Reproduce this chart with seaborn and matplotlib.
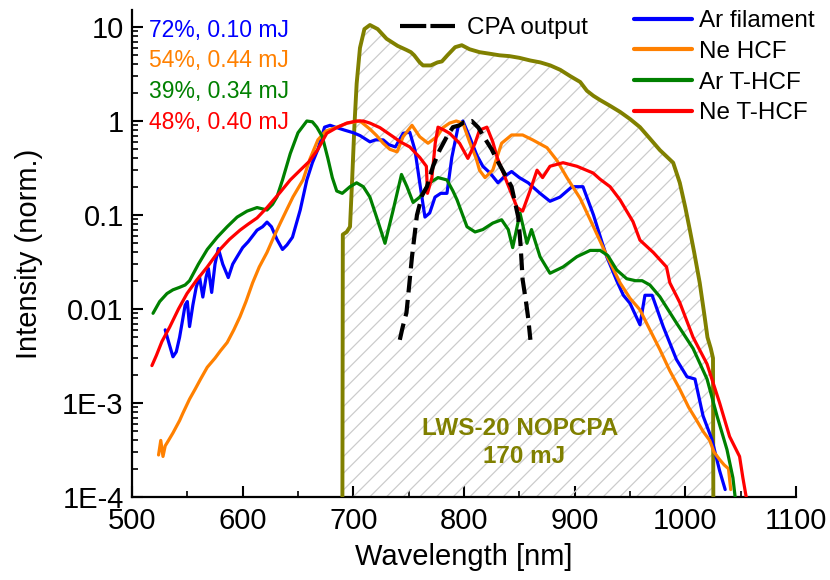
import numpy as np
import pandas as pd
import matplotlib
matplotlib.use("Agg")
import matplotlib.pyplot as plt
from matplotlib.lines import Line2D
from matplotlib.ticker import MultipleLocator, LogLocator, NullFormatter
import seaborn as sns

# ---------------- data ----------------
ar_fil_wl = [530, 533, 537, 540, 543, 546, 548, 550, 552, 555, 558, 561, 564, 567, 569, 572, 575, 578,
             582, 587, 591, 595, 600, 605, 610, 613, 618, 622, 626, 631, 636, 640, 645, 652, 658, 663,
             668, 674, 679, 685, 692, 700, 706, 715, 720, 727, 732, 738, 745, 751, 755.7, 760, 764.7,
             769, 773.8, 779, 784.6, 789, 794.6, 799, 805, 811.7, 817, 823.5, 830.7, 837, 843, 850, 858,
             868.7, 877.7, 886.7, 897.6, 907.5, 917, 925, 929, 934, 938, 944, 950, 959, 963.5, 970, 980,
             992, 1001.5, 1008.7, 1016, 1024, 1031, 1036]
ar_fil_int = [0.006, 0.0045, 0.0031, 0.0035, 0.005, 0.008, 0.011, 0.012, 0.0065, 0.011, 0.017, 0.022,
              0.0134, 0.022, 0.027, 0.015, 0.03, 0.044, 0.03, 0.0216, 0.03, 0.036, 0.045, 0.052, 0.062,
              0.069, 0.075, 0.084, 0.075, 0.055, 0.043, 0.048, 0.058, 0.113, 0.236, 0.36, 0.5, 0.86,
              0.9, 0.85, 0.8, 0.75, 0.7, 0.6, 0.63, 0.63, 0.56, 0.53, 0.74, 0.76, 0.49, 0.22, 0.095,
              0.105, 0.155, 0.17, 0.17, 0.41, 0.86, 1.0, 0.68, 0.43, 0.33, 0.28, 0.22, 0.26, 0.29, 0.25,
              0.22, 0.17, 0.14, 0.155, 0.2, 0.2, 0.1, 0.05, 0.036, 0.026, 0.02, 0.014, 0.0115, 0.0068,
              0.014, 0.014, 0.0065, 0.0029, 0.0019, 0.0018, 0.00073, 0.00041, 0.00019, 0.00012]

ne_hcf_wl = [524, 526, 528, 530, 533, 537, 543, 546, 552, 557, 562, 568, 575, 580, 586, 592, 597.6, 603,
             609, 615, 622, 628, 634, 640, 645.5, 654.5, 661, 668, 675, 685, 695, 706, 715, 721, 727,
             733, 739.5, 745, 753, 760, 767.5, 775.5, 781, 787, 793, 799, 805, 811, 814, 819, 826, 834,
             843, 853, 862, 875, 884, 893, 905, 917, 929, 941, 950, 959, 968, 977, 986, 995, 1003,
             1010, 1016, 1022, 1026, 1031, 1035, 1039, 1041]
ne_hcf_int = [0.00028, 0.0004, 0.00027, 0.00035, 0.0004, 0.00048, 0.00065, 0.00078, 0.0011, 0.0014,
              0.0018, 0.0024, 0.003, 0.0036, 0.0044, 0.006, 0.0083, 0.012, 0.019, 0.028, 0.04, 0.058,
              0.082, 0.115, 0.156, 0.236, 0.4, 0.63, 0.78, 0.86, 0.95, 1.0, 0.82, 0.7, 0.58, 0.5, 0.47,
              0.68, 0.9, 0.68, 0.58, 0.68, 0.85, 0.95, 1.0, 0.95, 0.6, 0.4, 0.3, 0.25, 0.3, 0.58, 0.71,
              0.71, 0.63, 0.52, 0.38, 0.25, 0.15, 0.075, 0.037, 0.019, 0.013, 0.0098, 0.006, 0.0037,
              0.0022, 0.0014, 0.0009, 0.00066, 0.0005, 0.0004, 0.0003, 0.00025, 0.00022, 0.0002, 0.00012]

ar_thcf_wl = [519, 525, 531.6, 537, 543, 548, 552, 560, 568, 577, 586, 595, 604, 613, 622, 627, 631, 636,
              643, 650, 658, 663, 667, 672, 677, 681, 685, 690, 697, 703, 709, 715, 721, 728.6, 736,
              743.5, 748.5, 754, 760, 769, 776.5, 784.6, 790, 793.7, 802.7, 810, 817, 826, 834, 840,
              844, 850.6, 856.9, 861, 868.7, 877.7, 889.5, 902, 914, 923, 930, 938, 947, 955, 961, 968,
              977, 992, 1007, 1019.6, 1028.6, 1037.6, 1043, 1045]
ar_thcf_int = [0.009, 0.012, 0.0146, 0.016, 0.017, 0.018, 0.02, 0.03, 0.043, 0.058, 0.075, 0.095, 0.11,
               0.12, 0.113, 0.13, 0.156, 0.236, 0.45, 0.75, 1.0, 0.98, 0.86, 0.68, 0.4, 0.25, 0.18,
               0.17, 0.2, 0.22, 0.2, 0.155, 0.095, 0.05, 0.113, 0.27, 0.2, 0.136, 0.155, 0.22, 0.25,
               0.236, 0.18, 0.145, 0.075, 0.066, 0.07, 0.082, 0.089, 0.07, 0.045, 0.105, 0.05, 0.07,
               0.036, 0.024, 0.028, 0.036, 0.042, 0.042, 0.037, 0.026, 0.021, 0.02, 0.02, 0.018, 0.0135,
               0.0071, 0.0038, 0.0018, 0.00073, 0.00032, 0.00016, 0.0001]

ne_thcf_wl = [518, 522, 527, 534, 542, 549.7, 558, 568, 579.5, 588, 597.6, 605, 613, 622, 628, 634, 643,
              652, 660, 668, 676, 685, 694, 703, 709, 715, 724, 736, 742.5, 751, 760, 766, 767, 771,
              774, 776.5, 782, 787, 796, 803.5, 810, 814, 820.7, 826, 830, 839, 848, 853, 859.6, 866,
              871, 877.7, 889.5, 902, 916.6, 923, 932, 941, 947, 952.7, 959, 971, 983, 986, 995, 1007,
              1019.6, 1031, 1040, 1049, 1052, 1055]
ne_thcf_int = [0.0025, 0.0032, 0.0045, 0.0064, 0.01, 0.0146, 0.02, 0.028, 0.043, 0.055, 0.069, 0.08,
               0.093, 0.12, 0.145, 0.175, 0.236, 0.3, 0.37, 0.5, 0.74, 0.85, 0.95, 1.0, 1.0, 0.95, 0.85,
               0.68, 0.6, 0.53, 0.41, 0.33, 0.17, 0.25, 0.58, 0.86, 0.8, 0.74, 0.58, 0.4, 0.58, 0.8,
               0.86, 0.6, 0.41, 0.22, 0.12, 0.11, 0.18, 0.3, 0.25, 0.33, 0.36, 0.33, 0.28, 0.24, 0.2,
               0.145, 0.11, 0.085, 0.054, 0.04, 0.028, 0.019, 0.0117, 0.005, 0.0026, 0.001, 0.00044,
               0.00027, 0.00016, 0.0001]

cpa_wl = [742, 744, 746, 748, 750.5, 753, 757.5, 762, 766.5, 772, 778, 785, 790, 796, 800, 807, 813, 820,
          825, 830, 837, 843, 849, 851, 853, 856, 858, 860]
cpa_int = [0.0047, 0.006, 0.0075, 0.0091, 0.018, 0.036, 0.1, 0.16, 0.2, 0.33, 0.49, 0.7, 0.86, 0.9,
           0.97, 1.0, 0.85, 0.62, 0.5, 0.38, 0.27, 0.2, 0.095, 0.05, 0.0205, 0.012, 0.008, 0.0047]

lws_wl = [690, 690.5, 694, 697, 699, 701, 703, 706, 710, 715, 722, 730, 740, 748, 752, 755, 760, 763, 770,
          776, 780, 785, 792, 798, 805, 814, 823, 832, 841, 850, 860, 869, 878, 887, 896, 905, 911, 917,
          923, 932, 941, 950, 959, 968, 977, 983, 989, 995, 1000, 1004, 1008, 1013, 1017, 1020, 1023,
          1025, 1025.5]
lws_int = [1e-5, 0.062, 0.066, 0.075, 0.25, 0.9, 2.5, 6.0, 9.5, 10.5, 9.5, 7.5, 6.3, 5.7, 5.4, 5.0, 4.2,
           3.9, 3.9, 4.2, 4.3, 5.0, 6.1, 6.4, 5.8, 5.4, 5.2, 5.0, 4.9, 4.7, 4.4, 4.2, 3.9, 3.5, 3.0, 2.6,
           2.1, 1.85, 1.67, 1.45, 1.25, 1.05, 0.86, 0.65, 0.49, 0.42, 0.36, 0.22, 0.12, 0.07, 0.04,
           0.019, 0.009, 0.005, 0.0038, 0.003, 1e-5]

series_names = ["Ar filament", "Ne HCF", "Ar T-HCF", "Ne T-HCF"]
series_colors = ["#0000ff", "#ff8000", "#008000", "#ff0000"]
annot_texts = ["72%, 0.10 mJ", "54%, 0.44 mJ", "39%, 0.34 mJ", "48%, 0.40 mJ"]
x_ticks = [500, 600, 700, 800, 900, 1000, 1100]
y_ticks = [1e-4, 1e-3, 1e-2, 1e-1, 1, 10]
y_tick_labels = ["1E-4", "1E-3", "0.01", "0.1", "1", "10"]

# ---------------- style ----------------
sns.set_theme(style="ticks")
plt.rcParams["font.family"] = ["Liberation Sans", "DejaVu Sans"]
plt.rcParams["hatch.linewidth"] = 0.9
for k in ["text.color", "axes.labelcolor", "xtick.color", "ytick.color", "axes.edgecolor"]:
    plt.rcParams[k] = "black"

W, H = 830, 580
fig = plt.figure(figsize=(W / 100, H / 100), dpi=100)
ax = fig.add_axes([132 / W, 1 - 497 / H, (796 - 132) / W, (497 - 10) / H])
ax.set_facecolor("white")

# hatched LWS-20 area
ax.fill_between(lws_wl, lws_int, 1e-6, facecolor="none", edgecolor="#cccccc",
                linewidth=0, hatch="//", zorder=1)
lws_df = pd.DataFrame({"wl": lws_wl, "I": lws_int})
sns.lineplot(data=lws_df, x="wl", y="I", ax=ax, color="#808000", lw=2.8,
             estimator=None, sort=False, zorder=3)

all_wl = [ar_fil_wl, ne_hcf_wl, ar_thcf_wl, ne_thcf_wl]
all_int = [ar_fil_int, ne_hcf_int, ar_thcf_int, ne_thcf_int]
for wl, it, name, col in zip(all_wl, all_int, series_names, series_colors):
    df = pd.DataFrame({"wl": wl, "I": it})
    sns.lineplot(data=df, x="wl", y="I", ax=ax, color=col, lw=2.3,
                 estimator=None, sort=False, zorder=4)

cpa_df = pd.DataFrame({"wl": cpa_wl, "I": cpa_int})
sns.lineplot(data=cpa_df, x="wl", y="I", ax=ax, color="black", lw=3.0,
             estimator=None, sort=False, zorder=5, dashes=False)
ax.lines[-1].set_dashes((4, 1.8))

ax.set_yscale("log")
ax.set_xlim(500, 1100)
ax.set_ylim(1e-4, 10 ** (1 + 17 / 94))
ax.set_xticks(x_ticks)
ax.set_xticklabels([str(v) for v in x_ticks])
ax.xaxis.set_minor_locator(MultipleLocator(50))
ax.set_yticks(y_ticks)
ax.set_yticklabels(y_tick_labels)
ax.yaxis.set_minor_locator(LogLocator(base=10, subs=np.arange(2, 10)))
ax.yaxis.set_minor_formatter(NullFormatter())

ax.tick_params(axis="both", which="major", direction="in", length=8, width=1.5,
               labelsize=21, colors="black")
ax.tick_params(axis="both", which="minor", direction="in", length=4.5, width=1.2, colors="black")
ax.tick_params(axis="y", which="major", pad=6)
ax.tick_params(axis="x", which="major", pad=7)
for s in ["top", "right"]:
    ax.spines[s].set_visible(False)
for s in ["left", "bottom"]:
    ax.spines[s].set_linewidth(1.6)
    ax.spines[s].set_color("black")

ax.set_xlabel("Wavelength [nm]", fontsize=21, labelpad=6, color="black")
ax.set_ylabel("Intensity (norm.)", fontsize=21, labelpad=14, color="black")

# legends
handles = [Line2D([], [], color=c, lw=3) for c in series_colors]
leg = ax.legend(handles, series_names, loc="upper left", bbox_to_anchor=(634 / W, 1 - 10 / H),
                bbox_transform=fig.transFigure, frameon=False, borderpad=0, borderaxespad=0,
                handlelength=2.4, handletextpad=0.28, labelspacing=0.36, fontsize=17.5)
ax.add_artist(leg)
cpa_handle = Line2D([], [], color="black", lw=3.0, dashes=(6.3, 1.0))
ax.legend([cpa_handle], ["CPA output"], loc="upper left", bbox_to_anchor=(400 / W, 1 - 17 / H),
          bbox_transform=fig.transFigure, frameon=False, borderpad=0, borderaxespad=0,
          handlelength=2.25, handletextpad=0.5, fontsize=17.5)

# annotations
for i, (t, c) in enumerate(zip(annot_texts, series_colors)):
    fig.text(149 / W, 1 - (37 + 30.5 * i) / H, t, color=c, fontsize=16.5, va="baseline", ha="left")

ax.text(0.584, 0.127, "LWS-20 NOPCPA", transform=ax.transAxes, color="#808000", fontsize=17.5,
        fontweight="bold", ha="center", va="baseline")
ax.text(0.59, 0.070, "170 mJ", transform=ax.transAxes, color="#808000", fontsize=17.5,
        fontweight="bold", ha="center", va="baseline")

fig.savefig("out.png", dpi=100, facecolor="white")
